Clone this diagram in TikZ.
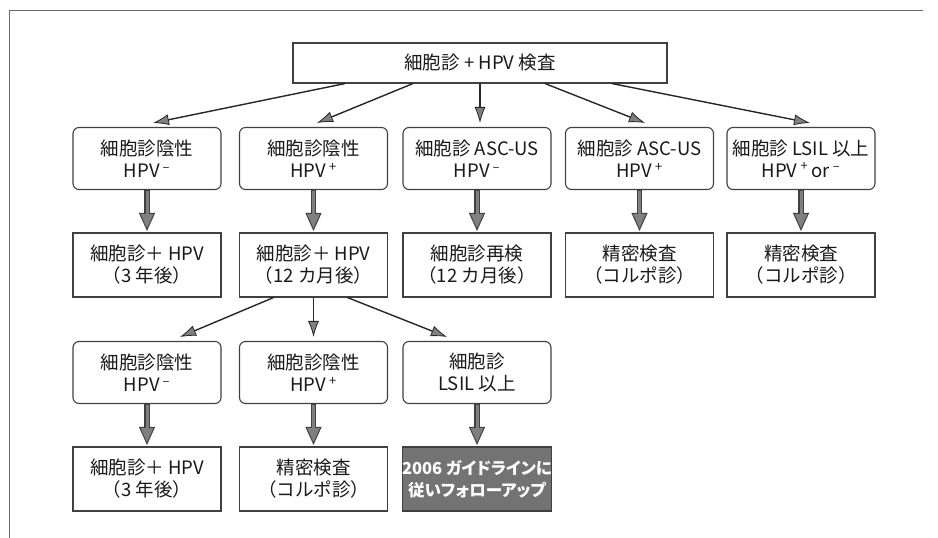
\documentclass[tikz,border=0pt]{standalone}
\usepackage{fontspec}
\setmainfont{Noto Sans CJK JP}
\newfontfamily\jpnarrow[RawFeature=+palt]{Noto Sans CJK JP}
\usetikzlibrary{arrows.meta,calc}
\begin{document}
\begin{tikzpicture}[x=1pt,y=-1pt,
  every node/.style={font=\fontsize{18.5}{22}\selectfont, text=black!90, align=center, inner sep=0pt},
  rbox/.style={draw=black!75, line width=1.1pt, rounded corners=6pt, minimum width=148pt, minimum height=62pt, fill=white},
  sbox/.style={draw=black!75, line width=1.1pt, minimum width=148pt, minimum height=64pt, fill=white},
  dbox/.style={sbox, fill=black!55, text=white, font=\jpnarrow\fontsize{16.5}{22}\selectfont\bfseries},
  thinarr/.style={draw=black!85, line width=1.4pt, -{Latex[length=16pt,width=11pt,fill=black!50,line width=0.8pt]}},
  fatout/.style={draw=black!75, line width=5.5pt, -{Triangle[length=18pt,width=16pt,fill=black!50,line width=1pt]}},
  fatin/.style={draw=black!50, line width=3pt, shorten >=17pt, shorten <=0.8pt},
]
\useasboundingbox (0,0) rectangle (938,538);
\draw[black!60, line width=0.9pt] (9,538) -- (9,10) -- (923,10);

% top
\node[draw=black!75, line width=1.1pt, minimum width=374pt, minimum height=40pt] (top) at (480,63) {細胞診 + HPV 検査};

% row 1
\node[rbox] (a1) at (147,158.5) {細胞診陰性\\HPV\,\textsuperscript{–}};
\node[rbox] (a2) at (313.5,158.5) {細胞診陰性\\HPV\,\textsuperscript{+}};
\node[rbox] (a3) at (477,158.5) {細胞診 ASC-US\\HPV\,\textsuperscript{–}};
\node[rbox] (a4) at (639.5,158.5) {細胞診 ASC-US\\HPV\,\textsuperscript{+}};
\node[rbox] (a5) at (801,158.5) {細胞診 LSIL 以上\\HPV\,\textsuperscript{+}\,or\,\textsuperscript{–}};

% row 2
\node[sbox] (b1) at (147,265) {細胞診＋ HPV\\（3 年後）};
\node[sbox] (b2) at (313.5,265) {細胞診＋ HPV\\（12 カ月後）};
\node[sbox] (b3) at (477,265) {細胞診再検\\（12 カ月後）};
\node[sbox] (b4) at (639.5,265) {精密検査\\（コルポ診）};
\node[sbox] (b5) at (801,265) {精密検査\\（コルポ診）};

% row 3
\node[rbox] (c1) at (147,372.5) {細胞診陰性\\HPV\,\textsuperscript{–}};
\node[rbox] (c2) at (313.5,372.5) {細胞診陰性\\HPV\,\textsuperscript{+}};
\node[rbox] (c3) at (477,372.5) {細胞診\\LSIL 以上};

% row 4
\node[sbox] (d1) at (147,479) {細胞診＋ HPV\\（3 年後）};
\node[sbox] (d2) at (313.5,479) {精密検査\\（コルポ診）};
\node[dbox] (d3) at (477,479) {2006 ガイドラインに\\従いフォローアップ};

% top arrows
\draw[thinarr] ([xshift=-135pt]top.south) -- ([xshift=6pt,yshift=4pt]a1.north);
\draw[thinarr] ([xshift=-67pt]top.south) -- ([xshift=3.5pt,yshift=4pt]a2.north);
\draw[thinarr] (top.south) -- ([yshift=4pt]top.south |- a3.north);
\draw[thinarr] ([xshift=65pt]top.south) -- ([xshift=5.5pt,yshift=4pt]a4.north);
\draw[thinarr] ([xshift=132pt]top.south) -- ([xshift=9pt,yshift=4pt]a5.north);

% row2 -> row3
\draw[thinarr] ([xshift=-40pt]b2.south) -- ([xshift=33pt,yshift=4pt]c1.north);
\draw[thinarr] (b2.south) -- ([yshift=4pt]c2.north);
\draw[thinarr] ([xshift=34pt]b2.south) -- ([xshift=-30pt,yshift=4pt]c3.north);

% fat arrows
\foreach \u/\v in {a1/b1,a2/b2,a3/b3,a4/b4,a5/b5,c1/d1,c2/d2,c3/d3}{
  \draw[fatout] (\u.south) -- ([yshift=1.5pt]\v.north);
  \draw[fatin] (\u.south) -- ([yshift=1.5pt]\v.north);
}
\end{tikzpicture}
\end{document}
